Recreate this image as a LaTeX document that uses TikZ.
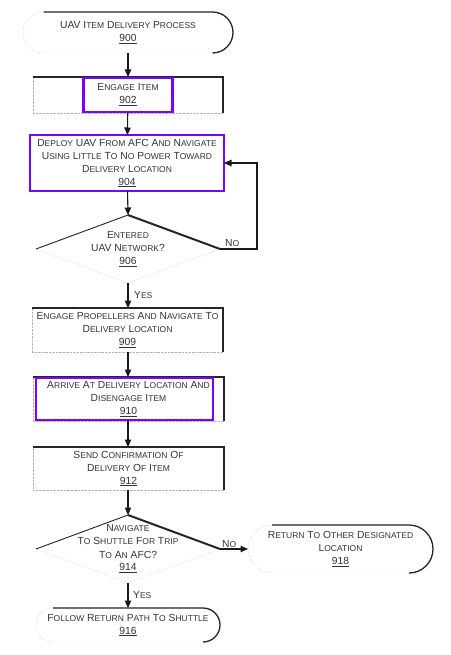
\documentclass[tikz,border=0pt]{standalone}
\usepackage{fontspec}
\setmainfont{Liberation Sans}
\usepackage{tikz}
\usetikzlibrary{arrows.meta, positioning}
\usetikzlibrary{shapes}
\usetikzlibrary{calc}
\definecolor{hilite}{HTML}{8000FF}
\definecolor{inkgray}{HTML}{333333}
\definecolor{dotgray}{HTML}{B4B4B4}

% small caps faked from Liberation Sans
\newcommand\smallword[1]{{\fontsize{8.5}{13}\selectfont\MakeUppercase{#1}}}
\ExplSyntaxOn
\tl_new:N \l_fsc_tl
\NewDocumentCommand \fsc { m }
  {
    \tl_set:Nn \l_fsc_tl { #1 }
    \regex_replace_all:nnN { ([a-z]+) } { \c{smallword} \cB\{ \1 \cE\} } \l_fsc_tl
    \tl_use:N \l_fsc_tl
  }
\ExplSyntaxOff

\begin{document}
\begin{tikzpicture}[x=1pt, y=1pt, >={Triangle[length=7.5pt, width=6.5pt]},
    box/.style={draw=dotgray, densely dotted, thin, text=inkgray, align=center,
        inner sep=0mm, outer sep=0mm, font=\fontsize{10.3}{13}\selectfont},
    stepbox/.style={box, rectangle},
    termbox/.style={box, rectangle, rounded corners=#1},
    query/.style={box, diamond, aspect=2.7, inner xsep=-30pt, inner ysep=-12pt,
        minimum width=184pt, minimum height=68pt},
    darkedge/.style={draw=black!85, solid, line width=1.3pt},
    hiliteedge/.style={draw=hilite, solid, line width=2.6pt},
    flow/.style={->, draw=black!90, line width=1.1pt},
    tag/.style={text=inkgray, inner sep=0mm, font=\fontsize{10.3}{13}\selectfont}]
    \useasboundingbox (0,0) rectangle (450,-655);

    % terminals
    \node[termbox=20.5pt, minimum width=210pt, minimum height=41pt] (start) at (128,-32.5)
        {\fsc{UAV Item Delivery Process}\\\underline{900}};
    \node[termbox=24pt, minimum width=185pt, minimum height=48pt] (other) at (340.5,-549)
        {\fsc{Return To Other Designated}\\\fsc{Location}\\\underline{918}};
    \node[termbox=17pt, minimum width=184pt, minimum height=34pt] (follow) at (128,-625)
        {\fsc{Follow Return Path To Shuttle}\\\underline{916}};

    % steps
    \node[stepbox, minimum width=190pt, minimum height=36pt] (engage) at (128,-95)
        {\fsc{Engage Item}\\\underline{902}};
    \node[stepbox, hiliteedge, minimum width=194pt, minimum height=56pt] (deploy) at (127,-163)
        {\fsc{Deploy UAV From AFC And Navigate}\\\fsc{Using Little To No Power Toward}\\
         \fsc{Delivery Location}\\\underline{904}};
    \node[stepbox, minimum width=191pt, minimum height=44pt] (propel) at (127.5,-330)
        {\fsc{Engage Propellers And Navigate To}\\\fsc{Delivery Location}\\\underline{909}};
    \node[stepbox, minimum width=191pt, minimum height=44pt] (arrive) at (128.5,-399)
        {\fsc{Arrive At Delivery Location And}\\\fsc{Disengage Item}\\\underline{910}};
    \node[stepbox, minimum width=191pt, minimum height=43pt] (confirm) at (128.5,-468.5)
        {\fsc{Send Confirmation Of}\\\fsc{Delivery Of Item}\\\underline{912}};

    % decisions
    \node[query] (entered) at (128,-249)
        {\fsc{Entered}\\\fsc{UAV Network?}\\\underline{906}};
    \node[query] (shuttle) at (128,-549)
        {\fsc{Navigate}\\\fsc{To Shuttle For Trip}\\\fsc{To An AFC?}\\\underline{914}};

    % dark top and right edges
    \foreach \n in {engage, propel, arrive, confirm}
        \draw[darkedge] (\n.north west) -- (\n.north east) -- (\n.south east);
    \draw[darkedge, rounded corners=20.5pt] ($(start.north west)+(20.5,0)$) -- (start.north east)
        -- (start.south east) -- ($(start.south east)+(-20.5,0)$);
    \draw[darkedge, rounded corners=24pt] ($(other.north west)+(24,0)$) -- (other.north east)
        -- (other.south east) -- ($(other.south east)+(-24,0)$);
    \draw[darkedge, rounded corners=17pt] ($(follow.north west)+(17,0)$) -- (follow.north east)
        -- (follow.south east) -- ($(follow.south east)+(-17,0)$);
    \foreach \n in {entered, shuttle} {
        \draw[darkedge, line width=0.9pt] (\n.west) -- (\n.north);
        \draw[darkedge, line width=2pt] (\n.north) -- (\n.east);
    }

    % highlighted parts
    \draw[hiliteedge] ($(engage.north)+(-44.5,-1)$) rectangle ($(engage.south)+(44.5,1)$);
    \draw[hiliteedge] ($(arrive.north west)+(3,-1)$) rectangle ($(arrive.south east)+(-11,1)$);

    % connectors
    \coordinate (back) at (257,-163);
    \draw[flow] (start) -- (engage);
    \draw[flow] (engage) -- (deploy);
    \draw[flow] (deploy) -- (entered.north);
    \draw[flow] (entered.east) -| (back) -- (deploy.east);
    \draw[flow] (entered.south) -- (propel.north -| entered.south);
    \draw[flow] (propel.south -| entered.south) -- (arrive.north -| entered.south);
    \draw[flow] (arrive.south -| entered.south) -- (confirm.north -| entered.south);
    \draw[flow] (confirm.south -| entered.south) -- (shuttle.north);
    \draw[flow] (shuttle.east) -- (other.west);
    \draw[flow] (shuttle.south) -- (follow.north);

    % branch labels
    \node[tag, anchor=south west] (no906) at (225,-247) {\fsc{No}};
    \node[tag, anchor=west] (yes906) at (134,-295) {\fsc{Yes}};
    \node[tag, anchor=south west] (no914) at (222,-548) {\fsc{No}};
    \node[tag, anchor=west] (yes914) at (133,-595) {\fsc{Yes}};
\end{tikzpicture}
\end{document}
